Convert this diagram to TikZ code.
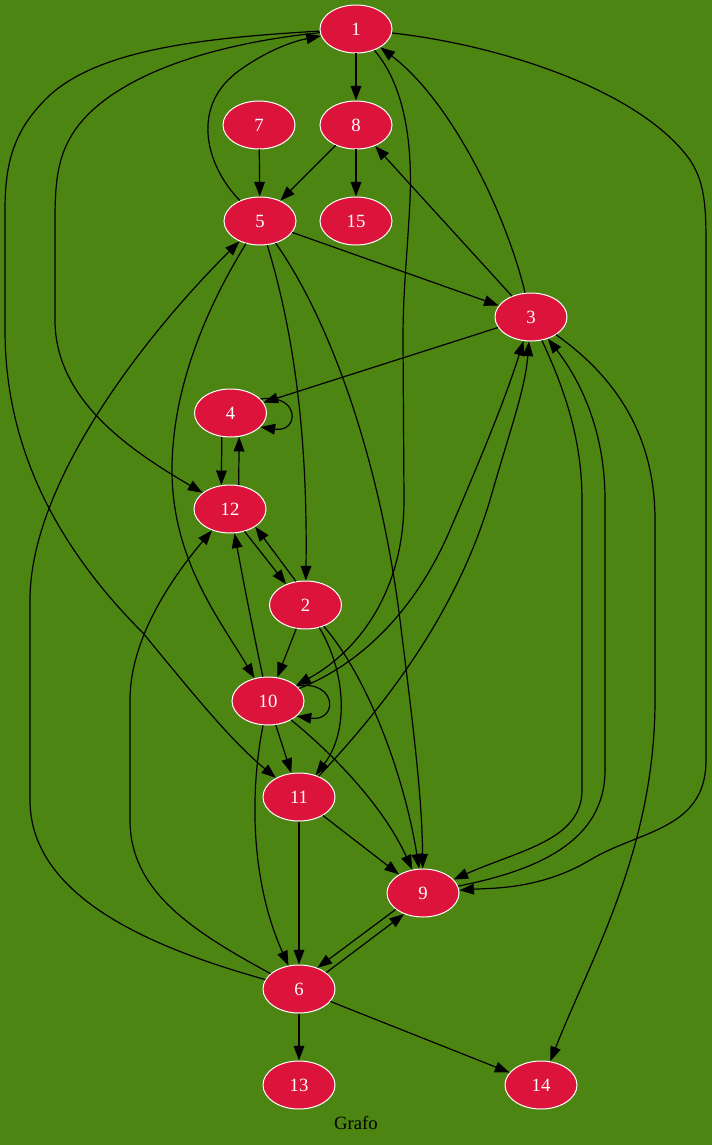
\documentclass[tikz,border=0pt]{standalone}
\usepackage{fontspec}
\setmainfont{Liberation Serif}
\usetikzlibrary{shapes.geometric,arrows.meta}
\definecolor{bg}{HTML}{4D8513}
\definecolor{nd}{HTML}{DC143C}
\begin{document}
\begin{tikzpicture}[x=0.75pt,y=-0.75pt,
  v/.style={ellipse,draw=white,fill=nd,text=white,minimum width=54pt,minimum height=36pt,inner sep=0pt,line width=0.75pt,font=\fontsize{14}{16}\selectfont},
  e/.style={draw=black,line width=0.9pt,-{Triangle[length=11pt,width=8pt]}},
  lbl/.style={font=\fontsize{14}{16}\selectfont,text=black}]
\fill[bg] (0,0) rectangle (712,1145);
\useasboundingbox (0,0) rectangle (712,1145);
% nodes
\node[v] (n1) at (356,29) {1};
\node[v] (n7) at (259,125) {7};
\node[v] (n8) at (356,125) {8};
\node[v] (n5) at (260,221) {5};
\node[v] (n15) at (356,221) {15};
\node[v] (n3) at (531,317) {3};
\node[v] (n4) at (230.5,413) {4};
\node[v] (n12) at (230,509) {12};
\node[v] (n2) at (305.5,605) {2};
\node[v] (n10) at (268,701) {10};
\node[v] (n11) at (299,797) {11};
\node[v] (n9) at (423,893) {9};
\node[v] (n6) at (299,989) {6};
\node[v] (n13) at (299,1085) {13};
\node[v] (n14) at (541,1085) {14};
\node[lbl] (title) at (356,1123) {Grafo};
% edges
\draw[e] (n1) -- (n8);
\draw[e] (n7) -- (n5);
\draw[e] (n8) -- (n5);
\draw[e] (n8) -- (n15);
\draw[e] (n5) .. controls (205,165) and (190,105) .. (240,70) .. controls (265,52) and (290,42) .. (n1);
\draw[e] (n1) .. controls (200,45) and (110,80) .. (75,130) .. controls (58,155) and (55,180) .. (55,220) -- (55,320) .. controls (55,400) and (130,450) .. (n12);
\draw[e] (n1) .. controls (200,38) and (100,50) .. (50,95) .. controls (15,128) and (5,160) .. (5,210) -- (5,330) .. controls (5,440) and (50,540) .. (143,633) .. controls (190,690) and (230,740) .. (n11);
\draw[e] (n1) .. controls (400,80) and (413,130) .. (410,200) .. controls (407,260) and (403,290) .. (403,340) -- (404,500) .. controls (404,590) and (360,650) .. (n10);
\draw[e] (n1) .. controls (500,45) and (640,90) .. (690,160) .. controls (703,180) and (706,200) .. (706,240) -- (706,760) .. controls (706,830) and (640,830) .. (590,860) .. controls (540,890) and (490,888) .. (n9);
\draw[e] (n3) .. controls (505,210) and (450,100) .. (n1);
\draw[e] (n3) -- (n8);
\draw[e] (n5) -- (n3);
\draw[e] (n5) .. controls (290,320) and (308,420) .. (n2);
\draw[e] (n5) .. controls (205,310) and (172,390) .. (172,470) .. controls (172,560) and (220,620) .. (n10);
\draw[e] (n5) .. controls (330,320) and (380,460) .. (400,620) .. controls (415,740) and (422,800) .. (n9);
\draw[e] (n3) -- (n4);
\draw[e] (n3) .. controls (565,390) and (582,440) .. (582,500) -- (582,790) .. controls (582,840) and (520,850) .. (n9);
\draw[e] (n9) .. controls (540,870) and (605,840) .. (605,770) -- (605,500) .. controls (605,430) and (580,380) .. (n3);
\draw[e] (n3) .. controls (620,380) and (655,440) .. (655,520) -- (655,700) .. controls (655,850) and (590,960) .. (n14);
\draw[e] (n4.25) .. controls (300,393) and (300,433) .. (n4.-25);
\draw[e] (n4.250) -- (n12.110);
\draw[e] (n12.70) -- (n4.290);
\draw[e] (n12.-57) -- (n2.133);
\draw[e] (n2.112) -- (n12.-35);
\draw[e] (n2) -- (n10);
\draw[e] (n2) .. controls (345,670) and (350,730) .. (n11);
\draw[e] (n2) .. controls (370,680) and (405,780) .. (n9);
\draw[e] (n10.28) .. controls (338,680) and (338,722) .. (n10.-28);
\draw[e] (n10) .. controls (370,660) and (420,600) .. (450,530) .. controls (480,460) and (505,400) .. (n3);
\draw[e] (n11) .. controls (400,690) and (460,600) .. (490,500) .. controls (510,430) and (525,390) .. (n3);
\draw[e] (n10) .. controls (255,640) and (245,590) .. (n12);
\draw[e] (n10) -- (n11);
\draw[e] (n10) .. controls (340,760) and (385,810) .. (n9);
\draw[e] (n10) .. controls (250,790) and (250,880) .. (n6);
\draw[e] (n11) -- (n9);
\draw[e] (n11) -- (n6);
\draw[e] (n9.211) -- (n6.49);
\draw[e] (n6.31) -- (n9.228);
\draw[e] (n6) .. controls (160,950) and (30,900) .. (30,800) -- (30,600) .. controls (30,480) and (150,330) .. (n5);
\draw[e] (n6) .. controls (190,930) and (130,890) .. (130,820) -- (130,700) .. controls (130,640) and (170,580) .. (n12);
\draw[e] (n6) -- (n13);
\draw[e] (n6) -- (n14);
\end{tikzpicture}
\end{document}
